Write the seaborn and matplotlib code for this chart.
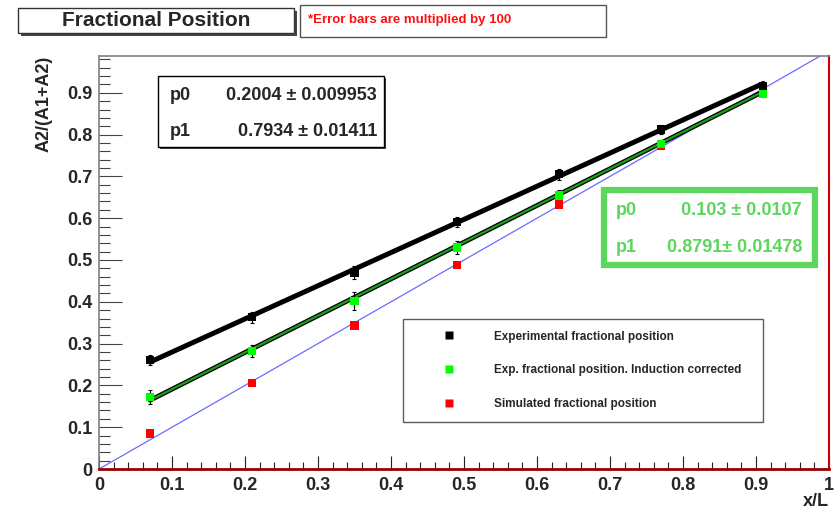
import matplotlib
matplotlib.use("Agg")
import matplotlib.pyplot as plt
from matplotlib.patches import Rectangle
from matplotlib.lines import Line2D
from matplotlib.ticker import MultipleLocator, FuncFormatter
import seaborn as sns
import pandas as pd

# Measured fractional positions along the detector
x_pos = [0.07, 0.21, 0.35, 0.49, 0.63, 0.77, 0.91]
exp_frac = [0.260, 0.363, 0.470, 0.591, 0.705, 0.812, 0.917]
exp_err = [0.012, 0.013, 0.015, 0.013, 0.013, 0.010, 0.008]
corr_frac = [0.172, 0.282, 0.402, 0.530, 0.654, 0.777, 0.898]
corr_err = [0.017, 0.014, 0.022, 0.015, 0.013, 0.011, 0.008]
sim_frac = [0.085, 0.205, 0.343, 0.488, 0.633, 0.773, 0.898]

# Linear fit results  y = p0 + p1 * x
exp_p0, exp_p0_err, exp_p1, exp_p1_err = 0.2004, "0.009953", 0.7934, "0.01411"
corr_p0, corr_p0_err, corr_p1, corr_p1_err = 0.103, "0.0107", 0.8791, "0.01478"

legend_labels = ["Experimental fractional position",
                 "Exp. fractional position. Induction corrected",
                 "Simulated fractional position"]

sns.set_style("ticks")
plt.rcParams["font.family"] = ["Liberation Sans", "DejaVu Sans"]
plt.rcParams["font.weight"] = "bold"

W, H = 837, 513
fig = plt.figure(figsize=(W / 100, H / 100), dpi=100)


def fx(px):
    return px / W


def fy(py):
    return 1 - py / H


ax = fig.add_axes([fx(99), fy(469), (829 - 99) / W, (469 - 56) / H])
ax.set_xlim(0, 1)
ax.set_ylim(0, 0.988)

df = pd.DataFrame({"x": x_pos, "exp": exp_frac, "corr": corr_frac, "sim": sim_frac})

# Fit lines evaluated over the measured range
fit_x = [x_pos[0], x_pos[-1]]
exp_fit = pd.DataFrame({"x": fit_x, "y": [exp_p0 + exp_p1 * v for v in fit_x]})
corr_fit = pd.DataFrame({"x": fit_x, "y": [corr_p0 + corr_p1 * v for v in fit_x]})
diag = pd.DataFrame({"x": [0, 1], "y": [0, 1]})

sns.lineplot(data=exp_fit, x="x", y="y", color="black", lw=3.6, ax=ax, zorder=3)
sns.lineplot(data=corr_fit, x="x", y="y", color="black", lw=3.4, ax=ax, zorder=3)
sns.lineplot(data=corr_fit, x="x", y="y", color="#1aa01a", lw=1.6, ax=ax, zorder=3.1)
sns.lineplot(data=diag, x="x", y="y", color="#6a6aff", lw=0.9, ax=ax, zorder=2)

# Error bars (scaled by 100)
ax.errorbar(x_pos, exp_frac, yerr=exp_err, fmt="none", ecolor="black",
            elinewidth=0.8, capsize=1.5, capthick=0.8, zorder=4)
ax.errorbar(x_pos, corr_frac, yerr=corr_err, fmt="none", ecolor="black",
            elinewidth=0.8, capsize=1.5, capthick=0.8, zorder=4)

sns.scatterplot(data=df, x="x", y="sim", marker="s", s=36, color="#ff0000",
                edgecolor="none", ax=ax, zorder=5)
sns.scatterplot(data=df, x="x", y="corr", marker="s", s=36, color="#00ff00",
                edgecolor="none", ax=ax, zorder=5)
sns.scatterplot(data=df, x="x", y="exp", marker="s", s=36, color="black",
                edgecolor="none", ax=ax, zorder=5)

ax.set_xlabel("")
ax.set_ylabel("")

# Axes frame and ticks
for side in ("top", "left"):
    ax.spines[side].set_color("#808080")
    ax.spines[side].set_linewidth(1.2)
ax.spines["bottom"].set_color("#9a0000")
ax.spines["bottom"].set_linewidth(2.0)
ax.spines["right"].set_color("#cc0000")
ax.spines["right"].set_linewidth(1.5)
for side in ax.spines:
    ax.spines[side].set_visible(True)
    ax.spines[side].set_zorder(6)

ax.xaxis.set_major_locator(MultipleLocator(0.1))
ax.xaxis.set_minor_locator(MultipleLocator(0.02))
ax.yaxis.set_major_locator(MultipleLocator(0.1))
ax.yaxis.set_minor_locator(MultipleLocator(0.02))


def fmt(v, _):
    if abs(v) < 1e-9:
        return "0"
    if abs(v - 1) < 1e-9:
        return "1"
    return f"{v:.1f}"


ax.xaxis.set_major_formatter(FuncFormatter(fmt))
ax.yaxis.set_major_formatter(FuncFormatter(fmt))
ax.tick_params(axis="x", which="major", direction="in", length=9.5, width=0.8,
               color="#222222", labelsize=13, pad=6)
ax.tick_params(axis="x", which="minor", direction="in", length=5, width=0.8,
               color="#222222")
ax.tick_params(axis="y", which="major", direction="in", length=16.5, width=0.8,
               color="#444444", labelsize=13, pad=5)
ax.tick_params(axis="y", which="minor", direction="in", length=8, width=0.8,
               color="#444444")
for lab in ax.get_xticklabels() + ax.get_yticklabels():
    lab.set_fontweight("bold")

fig.text(fx(44), fy(56), "A2/(A1+A2)", rotation=90, ha="center", va="top",
         fontsize=13, fontweight="bold")
fig.text(fx(829), fy(502), "x/L", ha="right", va="center",
         fontsize=13, fontweight="bold")


def box(x0, y0, x1, y1, ec="black", lw=1.0, shadow=0, shadow_color="#444444"):
    if shadow:
        fig.patches.append(Rectangle((fx(x0 + shadow), fy(y1 + shadow)),
                                     (x1 - x0) / W, (y1 - y0) / H,
                                     transform=fig.transFigure, facecolor=shadow_color,
                                     edgecolor="none", zorder=9))
    fig.patches.append(Rectangle((fx(x0), fy(y1)), (x1 - x0) / W, (y1 - y0) / H,
                                 transform=fig.transFigure, facecolor="white",
                                 edgecolor=ec, lw=lw, zorder=10))


# Title and note
box(18, 8, 294, 33, ec="#333333", lw=1.0, shadow=3)
fig.text(fx(156), fy(21), "Fractional Position", ha="center", va="center",
         fontsize=15, fontweight="bold", zorder=11)
box(300, 5, 606, 37, ec="#555555", lw=1.0, shadow=1, shadow_color="#999999")
fig.text(fx(308), fy(20), "*Error bars are multiplied by 100", ha="left",
         va="center", fontsize=9.5, fontweight="bold", color="#ff1010", zorder=11)

# Fit parameter box for experimental data
box(158, 76, 384, 147, ec="black", lw=1.0, shadow=2)
fig.text(fx(170), fy(96), "p0", ha="left", va="center", fontsize=13,
         fontweight="bold", zorder=11)
fig.text(fx(377), fy(96), f"{exp_p0:.4f} \u00b1 {exp_p0_err}", ha="right",
         va="center", fontsize=13, fontweight="bold", zorder=11)
fig.text(fx(170), fy(132), "p1", ha="left", va="center", fontsize=13,
         fontweight="bold", zorder=11)
fig.text(fx(377), fy(132), f"{exp_p1:.4f} \u00b1 {exp_p1_err}", ha="right",
         va="center", fontsize=13, fontweight="bold", zorder=11)

# Fit parameter box for induction-corrected data
g = "#5cd65c"
box(604, 190, 815, 265, ec=g, lw=4.5)
fig.text(fx(616), fy(211), "p0", ha="left", va="center", fontsize=13,
         fontweight="bold", color=g, zorder=11)
fig.text(fx(802), fy(211), f"{corr_p0:.3f} \u00b1 {corr_p0_err}", ha="right",
         va="center", fontsize=13, fontweight="bold", color=g, zorder=11)
fig.text(fx(616), fy(248), "p1", ha="left", va="center", fontsize=13,
         fontweight="bold", color=g, zorder=11)
fig.text(fx(802), fy(248), f"{corr_p1:.4f}\u00b1 {corr_p1_err}", ha="right",
         va="center", fontsize=13, fontweight="bold", color=g, zorder=11)

# Legend
handles = [Line2D([], [], ls="none", marker="s", ms=6, mfc=c, mec="none")
           for c in ("black", "#00ff00", "#ff0000")]
leg = ax.legend(handles, legend_labels, loc="upper left",
                bbox_to_anchor=(fx(403), fy(422), (763 - 403) / W, (422 - 319) / H),
                bbox_transform=fig.transFigure, mode="expand", borderaxespad=0,
                prop={"weight": "bold", "size": 8.5},
                frameon=True, fancybox=False, borderpad=0.98, labelspacing=1.85,
                handlelength=5.8, handletextpad=0.9)
leg.get_frame().set_edgecolor("#333333")
leg.get_frame().set_linewidth(1.0)
leg.set_zorder(8)

fig.savefig("out.png", dpi=100)
